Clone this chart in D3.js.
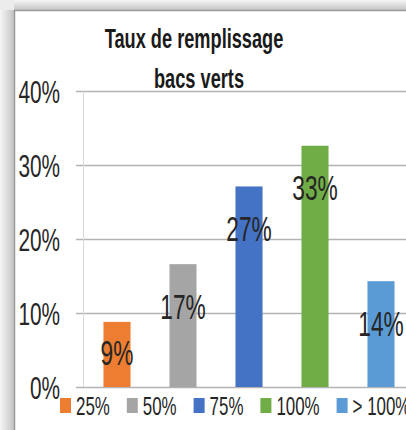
<!DOCTYPE html>
<html lang="fr">
<head>
<meta charset="utf-8">
<title>Taux de remplissage bacs verts</title>
<style>
  body { margin: 0; background: #fff; }
  text { font-family: "Liberation Sans", Arial, sans-serif; fill: #262626; }
</style>
</head>
<body>
<script src="https://cdn.jsdelivr.net/npm/d3@7"></script>
<script>

// data
var categories = ["25%", "50%", "75%", "100%", "> 100%"];
var values = [0.088, 0.166, 0.271, 0.326, 0.143];
var colors = ["#ED7D31", "#A5A5A5", "#4472C4", "#70AD47", "#5B9BD5"];
var yTicks = [0, 0.1, 0.2, 0.3, 0.4];
var titleLines = ["Taux de remplissage", "bacs verts"];

var w = 406, h = 430;
var sq = 0.65; // narrow text look

var svg = d3.select("body").append("svg").attr("width", w).attr("height", h);

// frame shadow
var defs = svg.append("defs");
var gl = defs.append("linearGradient").attr("id", "shL").attr("x1", 0).attr("x2", 1).attr("y1", 0).attr("y2", 0);
gl.append("stop").attr("offset", "0%").attr("stop-color", "#f6f6f6");
gl.append("stop").attr("offset", "100%").attr("stop-color", "#c4c4c4");
var gt = defs.append("linearGradient").attr("id", "shT").attr("x1", 0).attr("x2", 0).attr("y1", 0).attr("y2", 1);
gt.append("stop").attr("offset", "0%").attr("stop-color", "#f6f6f6");
gt.append("stop").attr("offset", "100%").attr("stop-color", "#c4c4c4");

svg.append("rect").attr("x", 0).attr("y", 0).attr("width", 14).attr("height", h).attr("fill", "url(#shL)");
svg.append("rect").attr("x", 0).attr("y", 0).attr("width", w).attr("height", 10).attr("fill", "url(#shT)");
svg.append("rect").attr("x", 0).attr("y", 0).attr("width", 14).attr("height", 10).attr("fill", "#ececec");
svg.append("rect").attr("x", 14).attr("y", 10).attr("width", w - 14).attr("height", h - 10).attr("fill", "#fff");
svg.append("path").attr("d", "M14.5," + h + "V10.5H" + w).attr("fill", "none").attr("stroke", "#9a9a9a").attr("stroke-width", 1.5);

// scales
var y = d3.scaleLinear().domain([0, 0.4]).range([387, 91]);
var x = d3.scaleBand().domain(categories).range([84, 414]).paddingInner(0.59).paddingOuter(0.295);
var fmt = d3.format(".0%");

// gridlines + y labels
var axis = svg.append("g").attr("transform", "translate(76,0)")
  .call(d3.axisLeft(y).tickValues(yTicks).tickFormat(fmt).tickSize(-(w - 76)));
axis.select(".domain").remove();
axis.selectAll(".tick line").attr("stroke", "#b3b3b3").attr("stroke-width", 1.5);
axis.selectAll(".tick text")
  .attr("x", 0)
  .attr("dy", "0.36em")
  .attr("transform", "translate(-16,0) scale(" + sq + ",1)")
  .attr("text-anchor", "end")
  .attr("font-size", "32px")
  .attr("font-family", null)
  .style("fill", "#262626");

svg.append("line").attr("x1", 83.5).attr("x2", 83.5).attr("y1", y(0.4)).attr("y2", y(0))
  .attr("stroke", "#d9d9d9").attr("stroke-width", 1);

// bars
var idx = d3.range(categories.length);
svg.selectAll("rect.bar").data(idx).enter().append("rect")
  .attr("class", "bar")
  .attr("x", function(i){ return x(categories[i]); })
  .attr("y", function(i){ return y(values[i]); })
  .attr("width", x.bandwidth())
  .attr("height", function(i){ return y(0) - y(values[i]); })
  .attr("fill", function(i){ return colors[i]; });

// data labels
svg.selectAll("text.lbl").data(idx).enter().append("text")
  .attr("class", "lbl")
  .attr("transform", function(i){
    var cx = x(categories[i]) + x.bandwidth() / 2;
    var cy = Math.min(y(values[i]) + 42, y(0) - 35);
    return "translate(" + cx + "," + cy + ") scale(" + sq + ",1)";
  })
  .attr("dy", "0.36em")
  .attr("text-anchor", "middle")
  .attr("font-size", "35px")
  .text(function(i){ return fmt(values[i]); });

// title
svg.selectAll("text.title").data(titleLines).enter().append("text")
  .attr("class", "title")
  .attr("transform", function(d, i){ return "translate(" + (194 + i * 5) + "," + (48 + i * 40) + ") scale(" + sq + ",1)"; })
  .attr("text-anchor", "middle")
  .attr("font-size", "28px")
  .attr("font-weight", "bold")
  .style("fill", "#1a1a1a")
  .text(function(d){ return d; });

// legend
var lx = 60;
idx.forEach(function(i){
  svg.append("rect").attr("x", lx).attr("y", 398).attr("width", 11).attr("height", 15).attr("fill", colors[i]);
  var t = svg.append("text")
    .attr("transform", "translate(" + (lx + 16) + ",415) scale(" + sq + ",1)")
    .attr("font-size", "26px")
    .text(categories[i]);
  lx += 16 + t.node().getComputedTextLength() * sq + 17;
});

</script>
</body>
</html>
